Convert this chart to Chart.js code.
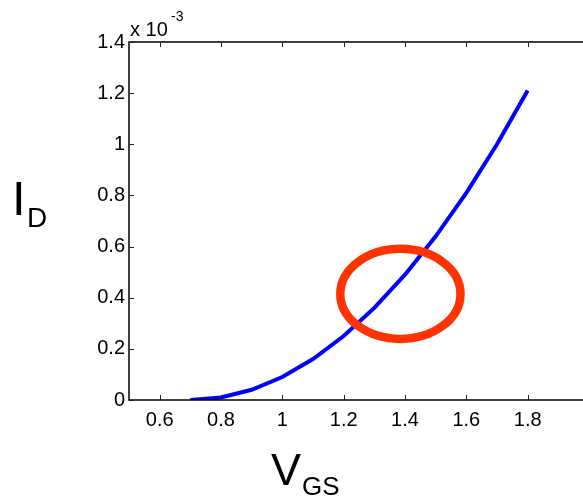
<!DOCTYPE html>
<html>
<head>
<meta charset="utf-8">
<style>
  html, body { margin: 0; padding: 0; background: #fff; overflow: hidden; }
  #wrap { position: relative; width: 583px; height: 500px; overflow: hidden; }
  #c { position: absolute; left: 0; top: 0; }
</style>
<script src="https://cdnjs.cloudflare.com/ajax/libs/Chart.js/4.4.0/chart.umd.min.js"></script>
</head>
<body>
<div id="wrap"><canvas id="c" width="590" height="500"></canvas></div>
<script>
'use strict';
// V_GS (V) and I_D (x 10^-3 A)
const vgs = [0.7, 0.8, 0.9, 1.0, 1.1, 1.2, 1.3, 1.4, 1.5, 1.6, 1.7, 1.8];
const idValues = [0, 0.01, 0.04, 0.09, 0.16, 0.25, 0.36, 0.49, 0.64, 0.81, 1.0, 1.21];
const xTicks = [0.6, 0.8, 1, 1.2, 1.4, 1.6, 1.8];
const yTicks = [0, 0.2, 0.4, 0.6, 0.8, 1, 1.2, 1.4];
// highlighted region (data units)
const mark = { x: 1.385, y: 0.415, rx: 0.196, ry: 0.176 };

const FONT = '"Liberation Sans", Arial, sans-serif';

const decor = {
    id: 'decor',
    afterDraw(chart) {
        const ctx = chart.ctx;
        const a = chart.chartArea;
        const xs = chart.scales.x, ys = chart.scales.y;
        ctx.save();
        // box
        ctx.strokeStyle = '#000';
        ctx.lineWidth = 1.5;
        ctx.strokeRect(a.left, a.top, a.right - a.left, a.bottom - a.top);
        // inward ticks on all sides
        ctx.lineWidth = 1;
        ctx.strokeStyle = '#222';
        ctx.beginPath();
        xTicks.forEach(v => {
            const px = Math.round(xs.getPixelForValue(v)) + 0.5;
            ctx.moveTo(px, a.bottom); ctx.lineTo(px, a.bottom - 5);
            ctx.moveTo(px, a.top); ctx.lineTo(px, a.top + 5);
        });
        yTicks.forEach(v => {
            const py = Math.round(ys.getPixelForValue(v)) + 0.5;
            ctx.moveTo(a.left, py); ctx.lineTo(a.left + 5, py);
            ctx.moveTo(a.right, py); ctx.lineTo(a.right - 6, py);
        });
        ctx.stroke();

        // ellipse
        const cx = xs.getPixelForValue(mark.x), cy = ys.getPixelForValue(mark.y);
        const rx = xs.getPixelForValue(mark.x + mark.rx) - cx;
        const ry = cy - ys.getPixelForValue(mark.y + mark.ry);
        ctx.strokeStyle = '#ff3300';
        ctx.lineWidth = 8.5;
        ctx.beginPath();
        ctx.ellipse(cx, cy, rx, ry, 0, 0, Math.PI * 2);
        ctx.stroke();

        // labels
        ctx.fillStyle = '#000';
        ctx.textBaseline = 'alphabetic';
        ctx.textAlign = 'left';
        ctx.font = '49px ' + FONT;
        ctx.fillText('I', 12, 215);
        ctx.font = '28px ' + FONT;
        ctx.fillText('D', 27, 227);
        ctx.font = '45px ' + FONT;
        ctx.fillText('V', 271, 485);
        ctx.font = '26px ' + FONT;
        ctx.fillText('GS', 302, 495);
        ctx.font = '20px ' + FONT;
        ctx.fillText('x 10', 130, 36);
        ctx.font = '14px ' + FONT;
        ctx.fillText('-3', 171, 21);
        ctx.restore();
    }
};

new Chart(document.getElementById('c'), {
    type: 'line',
    data: {
        datasets: [{
            data: vgs.map((v, i) => ({ x: v, y: idValues[i] })),
            borderColor: '#0000ff',
            borderWidth: 4,
            pointRadius: 0,
            tension: 0
        }]
    },
    options: {
        responsive: false,
        animation: false,
        devicePixelRatio: 1,
        layout: { padding: { top: 42, right: 1, left: 0, bottom: 0 } },
        plugins: { legend: { display: false }, tooltip: { enabled: false } },
        scales: {
            x: {
                type: 'linear',
                min: 0.5, max: 2,
                afterBuildTicks: s => { s.ticks = xTicks.map(v => ({ value: v })); },
                afterFit: s => { s.height = 100; },
                grid: { display: false, drawTicks: false },
                border: { display: false },
                ticks: {
                    color: '#000', padding: 8,
                    font: { family: FONT, size: 20 },
                    maxRotation: 0, autoSkip: false,
                    callback: v => String(Math.round(v * 10) / 10)
                }
            },
            y: {
                type: 'linear',
                min: 0, max: 1.4,
                afterBuildTicks: s => { s.ticks = yTicks.map(v => ({ value: v })); },
                afterFit: s => { s.width = 129; },
                grid: { display: false, drawTicks: false },
                border: { display: false },
                ticks: {
                    color: '#000', padding: 4,
                    font: { family: FONT, size: 20 },
                    autoSkip: false,
                    callback: v => String(Math.round(v * 10) / 10)
                }
            }
        }
    },
    plugins: [decor]
});
</script>
</body>
</html>
